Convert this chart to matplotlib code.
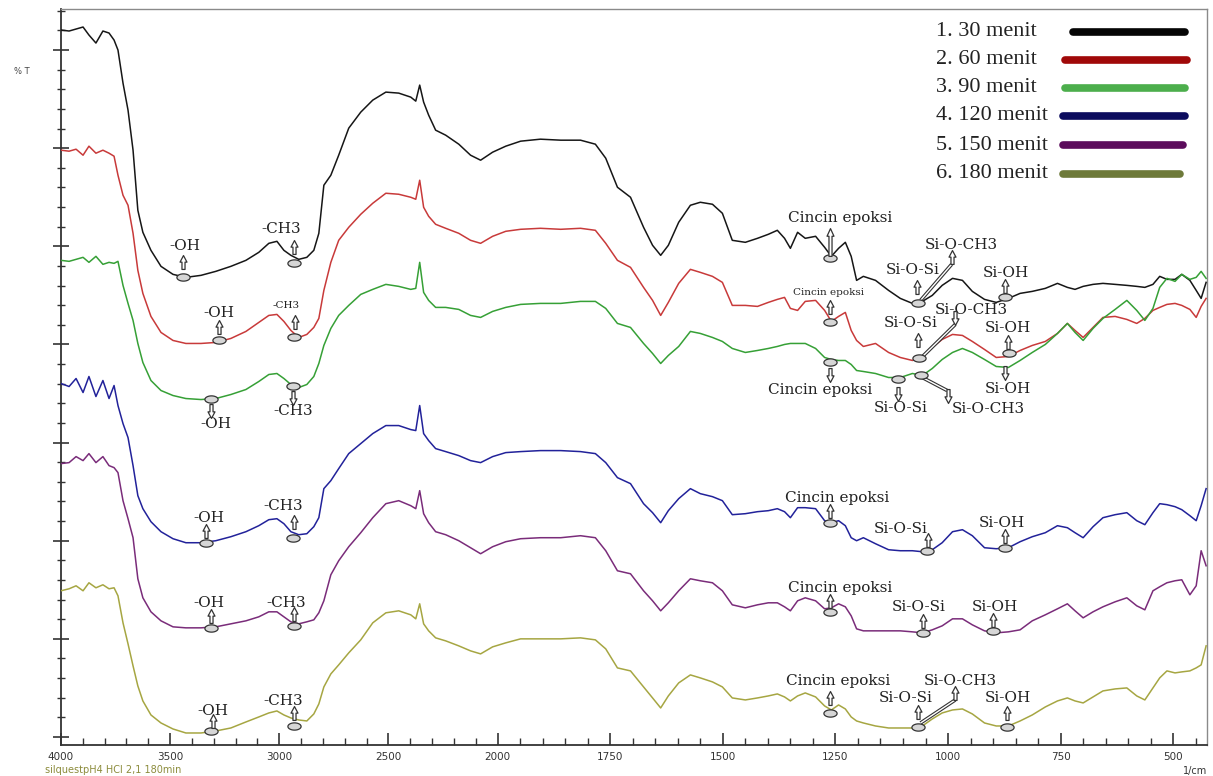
import numpy as np
import matplotlib
matplotlib.use("Agg")
import matplotlib.pyplot as plt
from matplotlib.path import Path
from matplotlib.lines import Line2D

# ---------------- data ----------------
wavenumber = [4000, 3963, 3931, 3899, 3872, 3840, 3808, 3780, 3757, 3739,
              3716, 3693, 3670, 3648, 3625, 3588, 3542, 3487, 3428, 3359,
              3291, 3222, 3153, 3094, 3048, 3011, 2979, 2947, 2911, 2874,
              2842, 2819, 2796, 2764, 2728, 2682, 2627, 2572, 2512, 2453,
              2398, 2375, 2357, 2339, 2316, 2284, 2238, 2178, 2124, 2078,
              2023, 1982, 1949, 1905, 1860, 1816, 1783, 1760, 1734, 1705,
              1676, 1656, 1638, 1621, 1598, 1572, 1550, 1523, 1501, 1479,
              1450, 1423, 1399, 1379, 1363, 1350, 1334, 1317, 1294, 1274,
              1259, 1243, 1228, 1215, 1203, 1188, 1161, 1132, 1106, 1079,
              1057, 1035, 1013, 990, 968, 946, 919, 893, 866, 840,
              813, 784, 757, 735, 718, 700, 678, 656, 629, 603,
              581, 563, 545, 530, 514, 496, 481, 463, 449, 438, 427]

t_30 = [714, 713, 715, 717, 709, 701, 713, 711, 704, 694,
        661, 634, 594, 534, 512, 494, 478, 470, 467, 469,
        473, 478, 484, 492, 501, 503, 494, 489, 485, 487,
        494, 511, 559, 569, 589, 616, 632, 644, 652, 651,
        647, 643, 659, 642, 629, 614, 609, 600, 589, 584,
        592, 598, 603, 605, 604, 604, 600, 586, 557, 547,
        517, 499, 489, 499, 522, 539, 542, 540, 531, 504,
        502, 506, 510, 514, 506, 496, 512, 506, 508, 497,
        488, 496, 502, 488, 464, 468, 464, 454, 446, 441,
        443, 449, 459, 466, 464, 453, 445, 442, 446, 451,
        453, 456, 461, 457, 455, 458, 460, 461, 460, 459,
        458, 457, 460, 468, 465, 465, 470, 464, 454, 446, 462]

t_60 = [594, 593, 595, 589, 598, 591, 594, 591, 588, 569,
        549, 539, 511, 474, 451, 428, 412, 404, 401, 401,
        402, 406, 413, 422, 429, 430, 423, 414, 407, 410,
        417, 426, 454, 482, 504, 517, 530, 541, 551, 550,
        547, 545, 564, 537, 528, 520, 516, 511, 504, 501,
        508, 513, 515, 516, 515, 516, 514, 501, 484, 477,
        457, 444, 429, 442, 461, 475, 472, 468, 462, 439,
        439, 438, 442, 445, 447, 436, 434, 443, 444, 434,
        423, 428, 432, 414, 404, 398, 401, 392, 387, 384,
        388, 397, 405, 410, 409, 403, 395, 387, 388, 394,
        399, 403, 411, 421, 414, 407, 417, 427, 428, 425,
        421, 426, 434, 437, 440, 441, 439, 435, 427, 438, 446]

t_90 = [484, 483, 485, 487, 482, 488, 480, 482, 481, 483,
        459, 441, 424, 401, 382, 364, 354, 349, 346, 345,
        346, 350, 355, 363, 370, 371, 366, 360, 357, 360,
        368, 381, 399, 416, 429, 439, 450, 455, 460, 458,
        455, 456, 482, 452, 444, 437, 437, 435, 429, 427,
        433, 437, 440, 441, 441, 443, 443, 436, 421, 417,
        401, 391, 381, 389, 398, 413, 411, 407, 403, 396,
        392, 394, 396, 398, 400, 401, 401, 401, 396, 387,
        385, 384, 384, 380, 374, 373, 371, 367, 367, 371,
        369, 376, 385, 392, 396, 392, 385, 378, 377, 384,
        392, 400, 411, 421, 412, 404, 416, 426, 435, 444,
        434, 424, 436, 457, 466, 463, 470, 465, 467, 473, 466]

t_120 = [361, 358, 366, 352, 368, 348, 364, 346, 359, 339,
         321, 307, 279, 249, 236, 223, 213, 206, 202, 202,
         204, 208, 213, 219, 225, 226, 221, 213, 210, 211,
         218, 227, 256, 264, 276, 291, 301, 311, 319, 319,
         315, 314, 339, 311, 304, 296, 293, 289, 284, 282,
         288, 292, 293, 294, 294, 293, 291, 282, 267, 261,
         241, 232, 222, 234, 246, 256, 251, 248, 244, 230,
         231, 233, 234, 236, 233, 227, 237, 237, 236, 224,
         222, 224, 219, 207, 204, 207, 201, 195, 194, 194,
         193, 195, 202, 213, 215, 209, 197, 196, 197, 203,
         208, 212, 219, 217, 212, 207, 218, 227, 230, 232,
         224, 220, 232, 241, 240, 238, 235, 229, 224, 239, 256]

t_150 = [281, 282, 288, 284, 291, 282, 288, 279, 277, 272,
         244, 226, 207, 166, 147, 133, 124, 118, 117, 117,
         118, 121, 124, 128, 133, 133, 128, 123, 121, 123,
         125, 132, 144, 170, 184, 198, 212, 227, 241, 244,
         239, 236, 254, 231, 222, 213, 210, 204, 197, 191,
         198, 203, 206, 207, 207, 209, 207, 194, 174, 171,
         154, 144, 134, 142, 154, 166, 164, 162, 154, 140,
         137, 140, 142, 142, 138, 134, 144, 147, 144, 136,
         137, 141, 138, 129, 116, 114, 114, 114, 114, 113,
         112, 115, 119, 126, 126, 120, 114, 112, 113, 115,
         124, 130, 136, 141, 134, 127, 133, 138, 143, 147,
         139, 135, 154, 158, 162, 164, 165, 150, 159, 194, 179]

t_180 = [154, 156, 159, 154, 162, 157, 160, 156, 157, 149,
         122, 101, 79, 59, 44, 30, 22, 16, 12, 12,
         14, 17, 23, 28, 32, 34, 30, 27, 25, 24,
         31, 41, 58, 71, 80, 92, 105, 122, 132, 134,
         130, 126, 141, 121, 114, 107, 104, 99, 94, 91,
         98, 102, 106, 106, 106, 107, 105, 96, 77, 74,
         58, 47, 37, 49, 62, 70, 67, 63, 58, 47,
         45, 47, 49, 51, 48, 44, 49, 52, 48, 39,
         35, 40, 36, 28, 24, 22, 19, 17, 17, 17,
         19, 26, 32, 35, 36, 31, 22, 19, 19, 24,
         30, 38, 44, 47, 44, 42, 48, 54, 56, 57,
         49, 45, 57, 67, 74, 72, 73, 74, 77, 80, 99]

series_labels = ["1. 30 menit", "2. 60 menit", "3. 90 menit",
                 "4. 120 menit", "5. 150 menit", "6. 180 menit"]
series_values = [t_30, t_60, t_90, t_120, t_150, t_180]
curve_colors = ["#161616", "#c83a3a", "#36a036", "#22229a", "#7a2c7a", "#a6a642"]
legend_colors = ["#050505", "#a00808", "#4cae4c", "#0c0c5e", "#5c0c5c", "#6e7a3a"]

x_ticks = [4000, 3500, 3000, 2500, 2000, 1750, 1500, 1250, 1000, 750, 500]
x_ticklabels = ["4000", "3500", "3000", "2500", "2000", "1750", "1500",
                "1250", "1000", "750", "500"]

# ---------------- piecewise wavenumber scale (break at 2000) ----------------
R = 2.063


def fwd(x):
    x = np.asarray(x, dtype=float)
    return np.where(x <= 2000, x * R, 2000 * R + (x - 2000))


def inv(y):
    y = np.asarray(y, dtype=float)
    return np.where(y <= 2000 * R, y / R, 2000 + (y - 2000 * R))


W, H = 1213, 776
fig = plt.figure(figsize=(W / 100, H / 100), dpi=100)
fig.patch.set_facecolor("white")
ax = fig.add_axes([61 / W, 1 - 745 / H, 1146 / W, 736 / H])
ax.set_xscale("function", functions=(fwd, inv))
ax.set_xlim(4000, 425)
ax.set_ylim(0, 735)

for vals, col in zip(series_values, curve_colors):
    ax.plot(wavenumber, vals, color=col, lw=1.1, zorder=3)

# ticks
ax.set_xticks(x_ticks)
ax.set_xticklabels(x_ticklabels)
minor_x = [v for v in range(3900, 2000, -100) if v % 500 != 0] + \
          [v for v in range(1950, 440, -50) if v % 250 != 0]
ax.set_xticks(minor_x, minor=True)
ax.tick_params(axis="x", which="major", direction="in", length=9, width=1.2,
               labelsize=7.5, labelcolor="#333333", pad=5, color="#333333")
ax.tick_params(axis="x", which="minor", direction="in", length=5, width=1.0,
               color="#333333")
ymaj = [8 + 98 * k for k in range(8)]
ax.set_yticks(ymaj)
ax.set_yticklabels([])
ax.set_yticks([8 + 19.6 * k for k in range(38) if 8 + 19.6 * k < 735], minor=True)
ax.tick_params(axis="y", which="major", direction="inout", length=12, width=1.2,
               color="#333333")
ax.tick_params(axis="y", which="minor", direction="inout", length=6, width=1.0,
               color="#333333")
for s in ["left", "bottom"]:
    ax.spines[s].set_color("#333333")
    ax.spines[s].set_linewidth(1.3)
for s in ["top", "right"]:
    ax.spines[s].set_color("#8a8a8a")
    ax.spines[s].set_linewidth(1.0)

# ---------------- annotation glyphs ----------------
theta = np.linspace(0, 2 * np.pi, 41)
ell = Path(np.c_[np.cos(theta), 0.55 * np.sin(theta)], closed=True)
up_v = [(-0.22, -1), (0.22, -1), (0.22, 0.05), (0.5, 0.05), (0, 1),
        (-0.5, 0.05), (-0.22, 0.05), (-0.22, -1)]
up_arrow = Path(up_v, closed=True)
down_arrow = Path([(x, -y) for x, y in up_v], closed=True)
tall_arrow = Path([(-0.11, -1), (0.11, -1), (0.11, 0.45), (0.25, 0.45), (0, 1),
                   (-0.25, 0.45), (-0.11, 0.45), (-0.11, -1)], closed=True)
SERIF = "DejaVu Serif"


def oval(x, y):
    ax.plot([x], [y], ls="none", marker=ell, ms=9.5, mfc="#d6d6d6",
            mec="#333333", mew=0.9, zorder=6)


def arr(x, y, kind):
    shape = {"up": up_arrow, "down": down_arrow, "tall": tall_arrow}[kind]
    ms = 20 if kind == "tall" else 10
    ax.plot([x], [y], ls="none", marker=shape, ms=ms, mfc="white",
            mec="#333333", mew=0.9, zorder=7)


def lab(x, y, s, size):
    ax.text(x, y, s, ha="center", va="center", family=SERIF, fontsize=size,
            color="#222222", zorder=7)


def leader(x0, y0, x1, y1):
    ax.plot([x0, x1], [y0, y1], color="#333333", lw=2.6, zorder=5,
            solid_capstyle="butt")
    ax.plot([x0, x1], [y0, y1], color="white", lw=1.0, zorder=5,
            solid_capstyle="butt")


FS = 11
# (text, text_x, text_y, arrow_x, arrow_y, arrow_kind, oval_x, oval_y, text_size)
annotations = [
    # 30 menit
    ("-OH", 3432, 498, 3442, 482, "up", 3442, 467, FS),
    ("-CH3", 2993, 515, 2934, 497, "up", 2934, 481, FS),
    ("Cincin epoksi", 1239, 526, 1261, 502, "tall", 1261, 486, FS),
    ("Si-O-Si", 1079, 474, 1068, 457, "up", 1066, 441, FS),
    ("Si-OH", 871, 471, 873, 458, "up", 873, 447, FS),
    ("Si-O-CH3", 970, 499, 992, 487, "up", None, None, FS),
    # 60 menit
    ("-OH", 3277, 431, 3277, 417, "up", 3277, 404, FS),
    ("-CH3", 2970, 439, 2930, 422, "up", 2934, 407, 7.5),
    ("Cincin epoksi", 1266, 452, 1261, 437, "up", 1261, 422, 7.5),
    ("Si-O-Si", 1084, 421, 1066, 404, "up", 1064, 386, FS),
    ("Si-O-CH3", 948, 434, 984, 426, "down", None, None, FS),
    ("Si-OH", 868, 416, 866, 402, "up", 864, 391, FS),
    # 90 menit (labels below the curve)
    ("-OH", 3291, 321, 3313, 334, "down", 3313, 346, FS),
    ("-CH3", 2938, 334, 2938, 347, "down", 2938, 359, FS),
    ("Cincin epoksi", 1283, 355, 1261, 369, "down", 1261, 382, FS),
    ("Si-O-Si", 1106, 337, 1110, 351, "down", 1110, 366, FS),
    ("Si-O-CH3", 911, 336, 1000, 349, "down", 1061, 369, FS),
    ("Si-OH", 868, 356, 873, 371, "down", None, None, FS),
    # 120 menit
    ("-OH", 3323, 227, 3336, 214, "up", 3336, 202, FS),
    ("-CH3", 2984, 239, 2934, 223, "up", 2938, 207, FS),
    ("Cincin epoksi", 1246, 247, 1261, 234, "up", 1261, 222, FS),
    ("Si-O-Si", 1106, 216, 1044, 205, "up", 1046, 194, FS),
    ("Si-OH", 880, 222, 873, 209, "up", 873, 197, FS),
    # 150 menit
    ("-OH", 3323, 142, 3314, 129, "up", 3314, 117, FS),
    ("-CH3", 2970, 142, 2934, 131, "up", 2934, 119, FS),
    ("Cincin epoksi", 1239, 157, 1261, 144, "up", 1261, 133, FS),
    ("Si-O-Si", 1066, 138, 1055, 124, "up", 1055, 112, FS),
    ("Si-OH", 895, 138, 900, 125, "up", 900, 114, FS),
    # 180 menit
    ("-OH", 3304, 34, 3304, 24, "up", 3314, 14, FS),
    ("-CH3", 2984, 44, 2934, 32, "up", 2934, 19, FS),
    ("Cincin epoksi", 1243, 64, 1261, 47, "up", 1261, 32, FS),
    ("Si-O-CH3", 973, 64, 984, 52, "up", None, None, FS),
    ("Si-O-Si", 1095, 47, 1066, 33, "up", 1066, 18, FS),
    ("Si-OH", 868, 47, 868, 32, "up", 868, 18, FS),
]

# leader lines for the Si-O-CH3 labels
leader(992, 480, 1061, 444)
leader(984, 420, 1061, 386)
leader(1057, 367, 1002, 354)
leader(984, 45, 1061, 22)

for (s, tx, ty, axx, ayy, kind, ox, oy, fs) in annotations:
    lab(tx, ty, s, fs)
    arr(axx, ayy, kind)
    if ox is not None:
        oval(ox, oy)

# ---------------- legend (drawn manually: text then thick line) ----------------
leg_y = [32, 60, 88, 116, 145, 174]
leg_x0 = [1073, 1065, 1065, 1063, 1063, 1063]
leg_x1 = [1185, 1187, 1185, 1185, 1183, 1180]
for lbl, col, yy, x0, x1 in zip(series_labels, legend_colors, leg_y, leg_x0, leg_x1):
    fig.text(936 / W, 1 - yy / H, lbl, family="Liberation Serif", fontsize=16,
             color="#222222", ha="left", va="center")
    fig.add_artist(Line2D([x0 / W, x1 / W], [1 - yy / H, 1 - yy / H],
                          transform=fig.transFigure, color=col, lw=5.5,
                          solid_capstyle="round"))

# ---------------- other texts ----------------
fig.text(22 / W, 1 - 72 / H, "% T", fontsize=6, color="#444444",
         ha="center", va="center")
fig.text(45 / W, 1 - 770 / H, "silquestpH4 HCl 2,1 180min", fontsize=7,
         color="#8c8c3c", ha="left", va="center")
fig.text(1195 / W, 1 - 771 / H, "1/cm", fontsize=7, color="#333333",
         ha="center", va="center")

fig.savefig("out.png", dpi=100)
